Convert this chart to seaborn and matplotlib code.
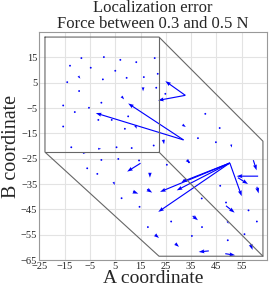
import numpy as np
import pandas as pd
import matplotlib
matplotlib.use("Agg")
import matplotlib.pyplot as plt
import seaborn as sns

# long arrows: tail x, tail y, dx, dy
long_x = [32.0, 32.0, 32.7, 32.7, 50.3, 50.3, 50.3, 50.3, 50.3, 61.5, 59.6, 15.0]
long_y = [-17.6, -17.6, 0.0, 0.0, -26.7, -26.7, -26.7, -26.7, -26.7, -31.9, -25.6, -26.8]
long_u = [-21.9, -34.7, -7.9, -10.8, -27.6, -28.3, -21.0, -19.1, 4.7, -8.5, 1.3, -5.3]
long_v = [14.4, 10.6, 5.6, -2.0, -11.4, -19.3, -10.8, -7.5, -13.1, 0.0, -4.0, -3.3]

# short arrows
short_x = [53.5, 31.9, 18.7, 24.0, 35.6, 48.8, 42.0, 48.5, 58.5, 61.0, 28.7, 20.7,
           33.3, 50.8, 31.6, -9.6, 16.0, 7.5, 12.9, -7.8, -1.8, 4.3, 12.0, 17.6, 49.3]
short_y = [-32.5, -33.3, -30.5, -17.5, -47.6, -43.6, -61.4, -62.5, -58.8, -36.1, -58.5, -55.0,
           -25.5, -19.4, -11.6, 7.6, 3.2, -0.4, -11.8, -22.8, -21.1, -34.2, -38.0, -37.1, -49.7]
short_u = [4.0, 0.8, 0.0, 0.3, 2.1, 3.4, -4.0, 3.9, 0.8, 0.7, 1.5, 1.6,
           1.3, 0.3, 1.3, 0.8, 0.0, 1.0, 0.6, 1.0, 1.2, 0.5, 2.1, 2.0, 0.5]
short_v = [-2.5, -0.8, -2.0, -1.8, -1.7, -2.7, -0.4, -0.6, -2.2, -2.6, -1.3, -1.3,
           -1.3, -1.2, -0.9, -1.0, -1.6, -1.2, -1.4, 0.0, 0.0, -1.2, -0.8, -1.3, -1.0]

# near-zero errors (dots)
dot_x = [-8.4, 0.5, 7.0, 13.3, -12.9, -4.7, 5.0, 0.1, 9.5, 16.3, -14.0, -15.6, -0.5, -5.4,
         20.6, 21.8, 21.2, 24.8, -11.0, -15.6, -1.7, 3.6, 10.1, 8.8, -12.4, 5.5, 11.5,
         -0.5, 6.2, 14.4, -6.1, -2.1, 40.6, 46.3, 37.7, 44.8, 20.2, 25.4, 34.1, 7.5, 14.6,
         17.9, 27.1, 39.3, 46.5, 48.8, 57.7, 61.0, 35.3, 49.5, 56.1, 39.2, -9.3]
dot_y = [14.7, 15.1, 14.0, 13.1, 11.7, 10.9, 9.7, 6.3, 6.9, 7.2, 5.2, -4.0, -2.9, -4.9,
         14.7, 8.5, 3.0, 0.6, -6.6, -12.3, -9.7, -9.7, -8.3, -13.2, -20.5, -20.5, -20.8,
         -25.5, -25.1, -25.7, -28.8, -31.0, -7.3, -12.9, -16.9, -18.5, -19.8, -27.4, -26.4,
         -40.6, -44.0, -52.0, -49.8, -52.0, -35.7, -42.3, -45.4, -49.8, -55.5, -57.2, -54.8,
         -40.7, 1.7]

# outline of the sensing area
box_x = [-22.8, 22.3, 63.4, 63.4, 22.3, -22.8, -22.8]
box_y = [23.0, 23.0, -18.1, -63.5, -63.5, -22.4, 23.0]
inner_x = [22.3, 22.3, -22.8]
inner_y = [23.0, -22.4, -22.4]
diag_x = [22.3, 63.4]
diag_y = [-22.4, -63.5]

df = pd.DataFrame({
    "x": long_x + short_x + dot_x,
    "y": long_y + short_y + dot_y,
    "u": long_u + short_u + [0.15] * len(dot_x),
    "v": long_v + short_v + [-0.1] * len(dot_x),
})

sns.set_theme(style="whitegrid")
plt.rcParams["font.family"] = ["Liberation Serif", "DejaVu Serif"]

fig = plt.figure(figsize=(2.69, 2.87), dpi=100)
ax = fig.add_axes([0.1465, 0.094, 0.846, 0.7945])

ax.plot(box_x, box_y, color="#666666", lw=0.8)
ax.plot(inner_x, inner_y, color="#666666", lw=0.8)
ax.plot(diag_x, diag_y, color="#666666", lw=0.8)

ax.quiver(df["x"], df["y"], df["u"], df["v"], angles="xy", scale_units="xy",
          scale=1, color="#0000ff", width=0.005, headwidth=3.5, headlength=5,
          headaxislength=4.5, minlength=1.8)

ax.set_xlim(-25, 65)
ax.set_ylim(-65, 25)
ax.set_xticks(np.arange(-25, 56, 10))
ax.set_yticks(np.arange(-65, 16, 10))
ax.grid(color="#e3e3e3", lw=0.8)
ax.tick_params(length=0, labelsize=7.5, pad=1.5)
for s in ax.spines.values():
    s.set_color("#999999")
    s.set_linewidth(0.8)

ax.set_xlabel("A coordinate", fontsize=14, va="top")
ax.xaxis.set_label_coords(0.5, -0.042)
ax.set_ylabel("B coordinate", fontsize=14.5, labelpad=0)
ax.set_title("Localization error\nForce between 0.3 and 0.5 N", fontsize=12,
             linespacing=0.95, pad=3)

fig.savefig("out.png", dpi=100)
